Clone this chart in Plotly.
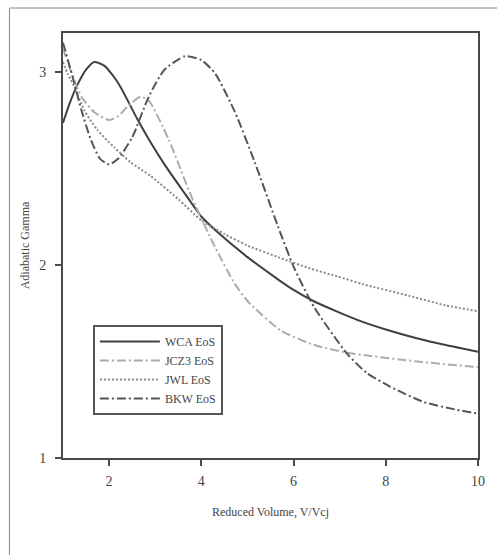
import plotly.graph_objects as go

# WCA EoS (solid)
wca_x = [1.0, 1.15, 1.31, 1.5, 1.68, 1.9, 2.2, 2.6, 2.86, 3.2, 3.58, 4.0, 4.3, 5.0, 5.66, 6.0, 6.45, 7.38, 8.0, 8.67, 9.3, 10.0]
wca_y = [2.735, 2.84, 2.93, 3.01, 3.05, 3.03, 2.94, 2.76, 2.65, 2.52, 2.39, 2.25, 2.18, 2.04, 1.925, 1.87, 1.81, 1.715, 1.665, 1.62, 1.585, 1.55]

# JCZ3 EoS (light dash-dot)
jcz_x = [1.0, 1.1, 1.4, 1.68, 2.0, 2.2, 2.4, 2.68, 2.86, 3.29, 3.79, 4.3, 4.73, 5.01, 5.72, 6.45, 7.16, 7.6, 8.67, 10.0]
jcz_y = [3.12, 3.05, 2.87, 2.79, 2.75, 2.77, 2.82, 2.87, 2.85, 2.65, 2.35, 2.09, 1.90, 1.81, 1.66, 1.585, 1.545, 1.53, 1.50, 1.47]

# JWL EoS (dotted)
jwl_x = [1.0, 1.1, 1.25, 1.46, 1.74, 2.1, 2.47, 2.9, 3.5, 4.0, 4.5, 5.0, 5.66, 6.37, 6.95, 7.5, 8.5, 9.3, 10.0]
jwl_y = [3.05, 2.99, 2.92, 2.80, 2.70, 2.61, 2.53, 2.46, 2.34, 2.23, 2.16, 2.10, 2.04, 1.98, 1.94, 1.90, 1.84, 1.79, 1.76]

# BKW EoS (dark dash-dot)
bkw_x = [1.0, 1.2, 1.4, 1.6, 1.8, 2.0, 2.2, 2.5, 2.86, 3.2, 3.65, 4.0, 4.3, 4.73, 5.16, 5.66, 6.02, 6.45, 7.16, 7.59, 8.09, 8.82, 9.53, 10.0]
bkw_y = [3.15, 2.98, 2.80, 2.65, 2.55, 2.52, 2.55, 2.66, 2.87, 3.01, 3.08, 3.06, 2.99, 2.79, 2.53, 2.20, 1.98, 1.78, 1.54, 1.44, 1.37, 1.29, 1.25, 1.23]

x_ticks = [2, 4, 6, 8, 10]
y_ticks = [1, 2, 3]

serif = "Liberation Serif"

fig = go.Figure()
fig.add_trace(go.Scatter(x=wca_x, y=wca_y, mode="lines", name="WCA EoS",
                         line=dict(color="#404040", width=2, shape="spline", smoothing=0.6)))
fig.add_trace(go.Scatter(x=jcz_x, y=jcz_y, mode="lines", name="JCZ3 EoS",
                         line=dict(color="#ababab", width=2, dash="9px,3px,2px,3px", shape="spline", smoothing=0.6)))
fig.add_trace(go.Scatter(x=jwl_x, y=jwl_y, mode="lines", name="JWL EoS",
                         line=dict(color="#8a8a8a", width=2, dash="2px,2px", shape="spline", smoothing=0.6)))
fig.add_trace(go.Scatter(x=bkw_x, y=bkw_y, mode="lines", name="BKW EoS",
                         line=dict(color="#555555", width=2, dash="9px,3px,2px,3px", shape="spline", smoothing=0.6)))

axis_common = dict(showgrid=False, zeroline=False, showline=True, linecolor="#4a4a4a", linewidth=2,
                   mirror=True, ticks="outside", ticklen=6, tickwidth=2, tickcolor="#4a4a4a",
                   tickfont=dict(family=serif, size=14, color="#444"))

fig.update_xaxes(range=[1, 10], tickvals=x_ticks, ticktext=[str(v) for v in x_ticks],
                 ticklabelstandoff=3,
                 title=dict(text="Reduced Volume, V/Vcj", font=dict(family=serif, size=12, color="#444"), standoff=20),
                 **axis_common)
fig.update_yaxes(range=[1, 3.2], tickvals=y_ticks, ticktext=[str(v) for v in y_ticks],
                 ticklabelstandoff=6,
                 title=dict(text="Adiabatic Gamma", font=dict(family=serif, size=12, color="#444"), standoff=7),
                 **axis_common)

# outer frame of the figure panel
fig.add_shape(type="rect", xref="paper", yref="paper", x0=-0.129, x1=1.3, y0=-0.5, y1=1.0588,
              line=dict(color="#888", width=1), fillcolor="rgba(0,0,0,0)", layer="below")

fig.update_layout(
    width=497, height=555,
    margin=dict(l=63, r=15, t=33, b=97),
    paper_bgcolor="white", plot_bgcolor="white",
    font=dict(family=serif, color="#444"),
    legend=dict(x=0.072, y=0.313, xanchor="left", yanchor="top",
                bordercolor="#555", borderwidth=2, bgcolor="white",
                font=dict(family=serif, size=12, color="#444"),
                tracegroupgap=0, itemwidth=60),
    showlegend=True,
)

fig.write_html("out.html")
